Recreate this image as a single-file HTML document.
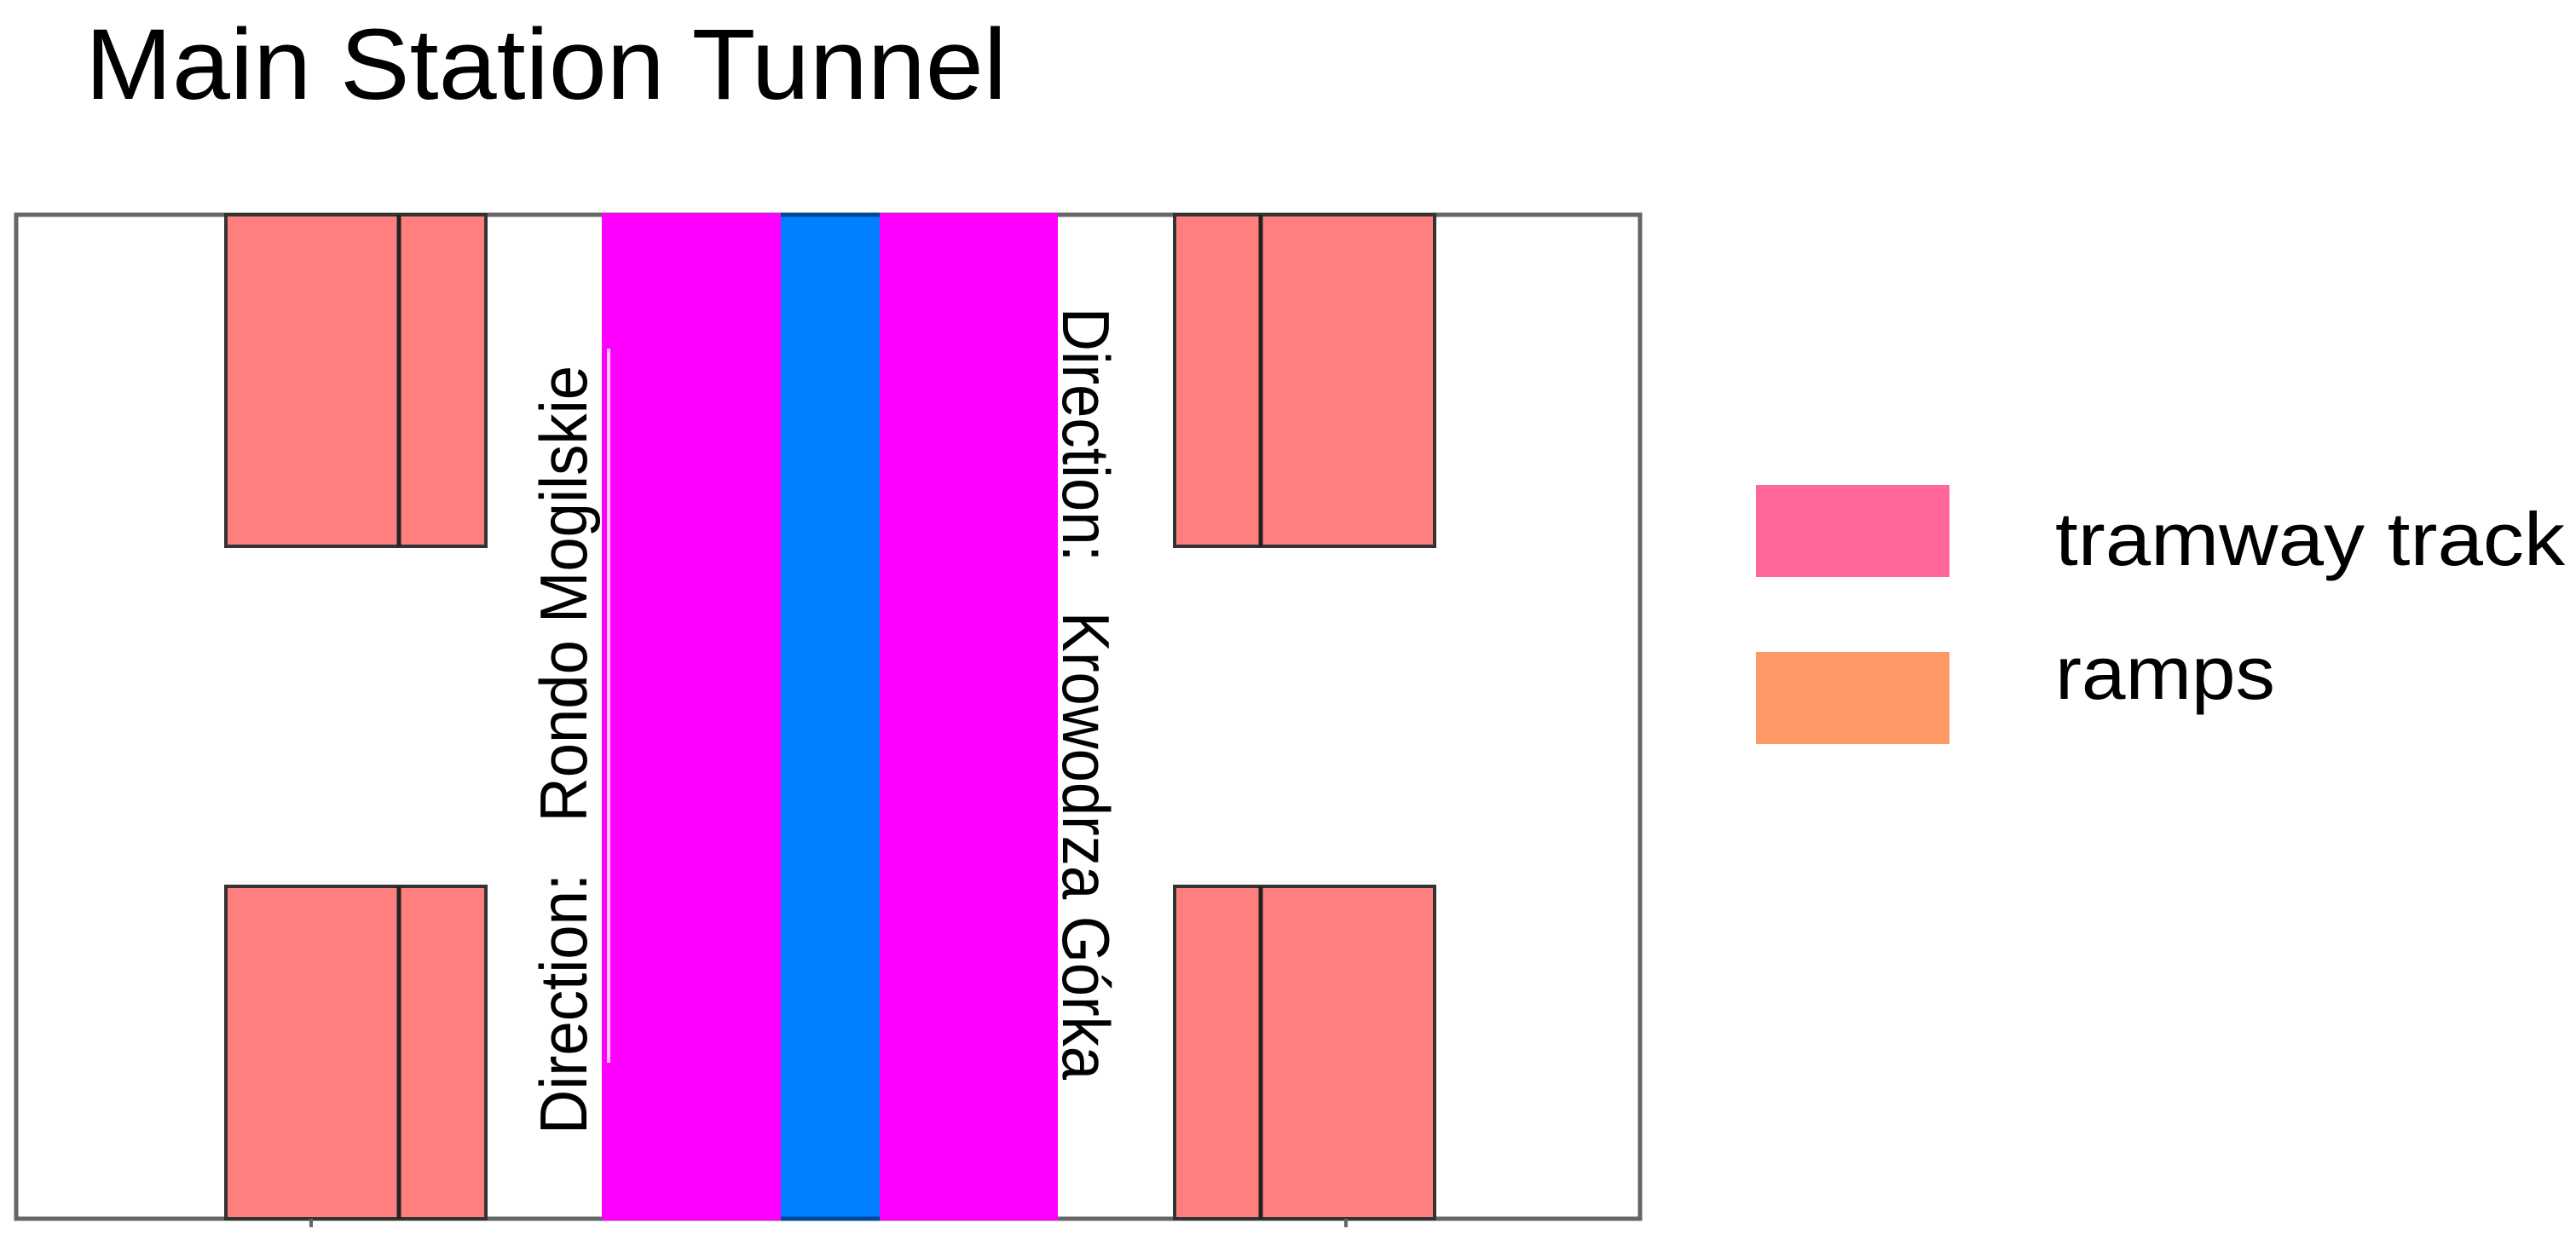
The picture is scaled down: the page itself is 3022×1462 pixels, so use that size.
<!DOCTYPE html>
<html><head><meta charset="utf-8"><style>html,body{margin:0;padding:0;background:#fff}svg{display:block}</style></head>
<body>
<svg width="3022" height="1462" viewBox="0 0 3022 1462" xmlns="http://www.w3.org/2000/svg" font-family="Liberation Sans, sans-serif">
<rect width="3022" height="1462" fill="#fff"/>
<text x="100" y="116" font-size="118" fill="#000" textLength="1081" lengthAdjust="spacingAndGlyphs">Main Station Tunnel</text>
<!-- outer box -->
<rect x="19" y="252" width="1905" height="1178" fill="#fff" stroke="#666" stroke-width="5"/>
<!-- tracks -->
<rect x="706" y="250" width="210" height="1182" fill="#ff00ff"/>
<rect x="916" y="250" width="116" height="1182" fill="#0080ff"/>
<rect x="1032" y="250" width="209" height="1182" fill="#ff00ff"/>
<line x1="916" y1="252" x2="1032" y2="252" stroke="#004a99" stroke-width="5"/>
<line x1="916" y1="1430" x2="1032" y2="1430" stroke="#004a99" stroke-width="5"/>
<line x1="714" y1="409" x2="714" y2="1247" stroke="#f4c8f4" stroke-width="4"/>
<!-- ramps -->
<g fill="#ff7f7f" stroke="#333" stroke-width="4">
<rect x="265" y="252" width="305" height="389"/>
<rect x="265" y="1040" width="305" height="390"/>
<rect x="1378" y="252" width="305" height="389"/>
<rect x="1378" y="1040" width="305" height="390"/>
</g>
<g stroke="#222" stroke-width="5">
<line x1="468" y1="252" x2="468" y2="641"/>
<line x1="468" y1="1040" x2="468" y2="1430"/>
<line x1="1479" y1="252" x2="1479" y2="641"/>
<line x1="1479" y1="1040" x2="1479" y2="1430"/>
</g>
<g stroke="#666" stroke-width="4">
<line x1="365" y1="1430" x2="365" y2="1440"/>
<line x1="1579" y1="1430" x2="1579" y2="1440"/>
</g>
<!-- vertical labels -->
<text transform="translate(688,1331) rotate(-90)" font-size="78" fill="#000" textLength="902" lengthAdjust="spacingAndGlyphs" xml:space="preserve">Direction:   Rondo Mogilskie</text>
<text transform="translate(1247,361) rotate(90)" font-size="78" fill="#000" textLength="906" lengthAdjust="spacingAndGlyphs" xml:space="preserve">Direction:   Krowodrza Górka</text>
<!-- legend -->
<rect x="2060" y="569" width="227" height="108" fill="#ff6699"/>
<rect x="2060" y="765" width="227" height="108" fill="#ff9966"/>
<text x="2411" y="663" font-size="88" fill="#000" textLength="598" lengthAdjust="spacingAndGlyphs">tramway track</text>
<text x="2411" y="820" font-size="88" fill="#000" textLength="258" lengthAdjust="spacingAndGlyphs">ramps</text>
</svg>
</body></html>
